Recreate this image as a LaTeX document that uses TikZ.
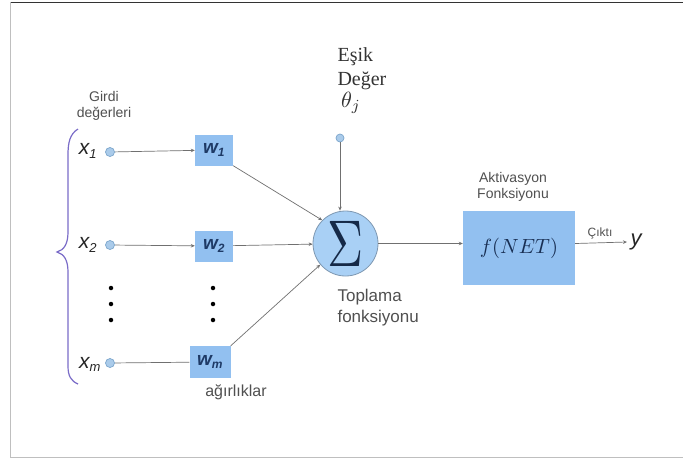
\documentclass[tikz,border=0pt]{standalone}
\usepackage{fontspec}
\setmainfont{Liberation Serif}
\setsansfont{Liberation Sans}
\usetikzlibrary{arrows.meta}
\definecolor{wire}{HTML}{707070}
\definecolor{boxblue}{HTML}{92C0F0}
\definecolor{sumblue}{HTML}{A9D0F5}
\definecolor{sumedge}{HTML}{7E98B2}
\definecolor{dotfill}{HTML}{AACBEA}
\definecolor{dotedge}{HTML}{7BA5CC}
\definecolor{bracecol}{HTML}{7A6CC8}
\definecolor{labelgray}{HTML}{505050}
\definecolor{navy}{HTML}{1E3A66}
\begin{document}
\begin{tikzpicture}[x=1pt,y=-1pt,
  conn/.style={draw=wire, line width=0.7pt},
  arr/.style={conn, -{Stealth[length=4pt,width=3.5pt]}},
  inputdot/.style={circle, draw=dotedge, fill=dotfill, line width=0.7pt, minimum size=9pt, inner sep=0pt},
  weightbox/.style={rectangle, fill=boxblue, minimum width=38pt, minimum height=31pt, inner sep=0pt,
    font=\sffamily\bfseries\itshape\fontsize{19}{19}\selectfont, text=navy},
  xlabel/.style={font=\sffamily\itshape\fontsize{21}{21}\selectfont, text=black!85},
  smalltxt/.style={font=\sffamily\fontsize{14}{16}\selectfont, text=labelgray, align=center},
  midtxt/.style={font=\sffamily\fontsize{17}{21}\selectfont, text=labelgray, align=left},
  vdot/.style={circle, fill=black, minimum size=4.5pt, inner sep=0pt}
]
% page area and frame
\useasboundingbox (0,0) rectangle (683,459);
\fill[white] (0,0) rectangle (683,459);
\draw[black!80, line width=1pt] (10,2) -- (683,2);
\draw[black!25, line width=0.8pt] (10,2) -- (10,457) -- (683,457);

% input labels
\node[smalltxt] (girdi) at (104,106) {Girdi\\değerleri};

% curly brace grouping the inputs
\draw[bracecol, line width=1.2pt] (78,129) .. controls (70,134) and (68,142) .. (68,155)
  -- (68,232) .. controls (68,244) and (64,250) .. (57,252)
  .. controls (64,254) and (68,260) .. (68,272)
  -- (68,366) .. controls (68,376) and (71,381) .. (78,384);

% inputs
\node[xlabel] (lx1) at (88,151) {x\textsubscript{\fontsize{13}{13}\selectfont 1}};
\node[xlabel] (lx2) at (88,245) {x\textsubscript{\fontsize{13}{13}\selectfont 2}};
\node[xlabel] (lxm) at (90,364) {x\textsubscript{\fontsize{13}{13}\selectfont m}};
\node[inputdot] (x1) at (110,152) {};
\node[inputdot] (x2) at (110,245) {};
\node[inputdot] (xm) at (110,363) {};

% weights
\node[weightbox] (w1) at (214,150) {w\textsubscript{\fontsize{12}{12}\selectfont 1}};
\node[weightbox] (w2) at (214,246) {w\textsubscript{\fontsize{12}{12}\selectfont 2}};
\node[weightbox, minimum width=41pt, minimum height=32pt] (wm) at (210,362) {w\textsubscript{\fontsize{12}{12}\selectfont m}};
\node[font=\sffamily\fontsize{16}{18}\selectfont, text=labelgray] (agir) at (236,392) {ağırlıklar};

% ellipsis dots
\foreach \yy [count=\i] in {288,304,320} {
  \node[vdot] (dl\i) at (111,\yy) {};
  \node[vdot] (dr\i) at (213,\yy) {};
}

% summation unit
\node[circle, draw=sumedge, fill=sumblue, line width=0.8pt, minimum size=65pt, inner sep=0pt, text=navy!70!black] (sum) at (345.5,243.5)
  {\scalebox{5}[6.6]{$\Sigma$}};
\node[midtxt, anchor=north west] (topl) at (334,286) {Toplama\\fonksiyonu};

% threshold
\node[inputdot, minimum size=8pt] (th) at (340,138) {};
\node[font=\rmfamily\fontsize{20}{24}\selectfont, text=black!80, align=left, anchor=north west] (esik) at (334,44) {Eşik\\Değer};
\node[text=black!80] (theta) at (351,103) {\scalebox{2.2}{$\theta_j$}};

% activation unit
\node[rectangle, fill=boxblue, minimum width=112pt, minimum height=74pt, inner sep=0pt,
  text=navy!80!black] (act) at (519,248) {\scalebox{2.05}{$f(NET)$}};
\node[smalltxt] (aktlbl) at (513,187) {Aktivasyon\\Fonksiyonu};
\node[font=\sffamily\fontsize{22}{22}\selectfont\itshape, text=black!85] (y) at (636,242) {y};
\node[font=\sffamily\fontsize{12}{14}\selectfont, text=labelgray] (cikti) at (600,233) {Çıktı};

% connections
\draw[arr] (x1) -- (w1);
\draw[arr] (x2) -- (w2);
\draw[conn] (xm) -- (wm);
\draw[arr] (w1.south east) -- (sum.135);
\draw[arr] (w2) -- (sum);
\draw[arr] (wm.north east) -- (sum.220);
\draw[arr] (th) -- (th |- sum.north);
\draw[arr] (sum) -- (act.west |- sum.east);
\draw[arr] (act.east |- sum.east) -- (y.west);
\end{tikzpicture}
\end{document}
